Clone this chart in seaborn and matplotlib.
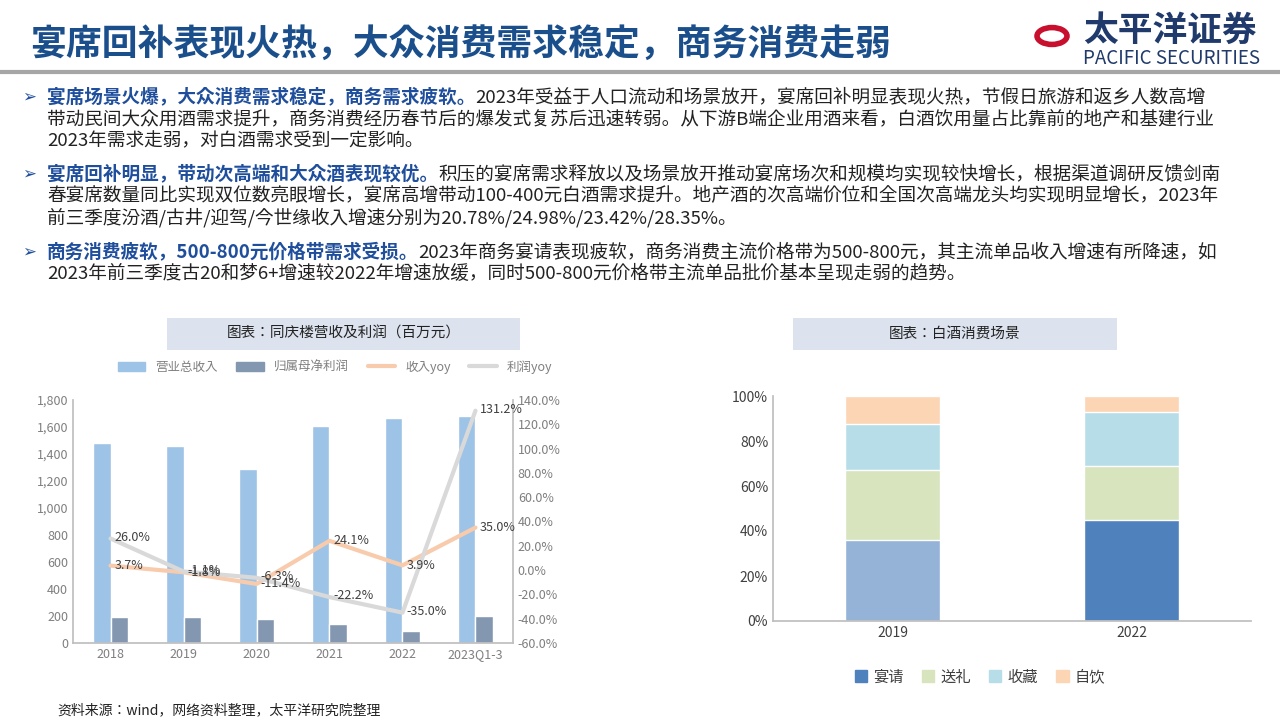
import numpy as np
import pandas as pd
import matplotlib
matplotlib.use("Agg")
import matplotlib.pyplot as plt
import matplotlib.font_manager as fm
from matplotlib.patches import Rectangle, Patch, Circle
from matplotlib.lines import Line2D
import seaborn as sns

# ---- data ----
years = ["2018", "2019", "2020", "2021", "2022", "2023Q1-3"]
revenue = [1485, 1460, 1290, 1605, 1665, 1680]
profit = [195, 192, 178, 140, 90, 200]
rev_yoy = [3.7, -1.8, -11.4, 24.1, 3.9, 35.0]
prof_yoy = [26.0, -1.1, -6.3, -22.2, -35.0, 131.2]

scene_years = ["2019", "2022"]
scene_names = ["宴请", "送礼", "收藏", "自饮"]
banquet = [36.0, 45.0]
gift = [31.0, 24.0]
collect = [20.5, 24.0]
self_drink = [12.5, 7.0]

# find a CJK font on disk and register it
FONT = "Noto Sans CJK SC"
for p in fm.findSystemFonts():
    base = p.split("/")[-1]
    if base.startswith("NotoSansCJK") or base.startswith("NotoSansSC"):
        try:
            fm.fontManager.addfont(p)
        except Exception:
            pass
cjk = [f.name for f in fm.fontManager.ttflist if "CJK" in f.name and "Sans" in f.name]
if FONT not in cjk and cjk:
    FONT = sorted(cjk)[0]
sns.set_theme(style="white", font=FONT, rc={"axes.unicode_minus": False,
                                            "font.sans-serif": [FONT, "DejaVu Sans"]})

W, H = 1280, 720
fig = plt.figure(figsize=(12.8, 7.2), dpi=100)


def px(x, y, w, h):
    return [x / W, 1 - (y + h) / H, w / W, h / H]


def fx(x):
    return x / W


def fy(y):
    return 1 - y / H


# ---- header ----
fig.text(fx(30), fy(44), "宴席回补表现火热，大众消费需求稳定，商务消费走弱",
         fontsize=25.8, fontweight="bold", color="#1B4F8C", va="center")
fig.add_artist(Line2D([0, 1], [fy(72), fy(72)], color="#A6A6A6", lw=3))
fig.add_artist(Circle((fx(1052), fy(36)), 15 / W, transform=fig.transFigure,
                      fill=False, ec="#C8102E", lw=4))
fig.text(fx(1083), fy(30), "太平洋证券", fontsize=25, fontweight="bold",
         color="#1F3A6B", va="center")
fig.text(fx(1083), fy(58), "PACIFIC SECURITIES", fontsize=13.5,
         color="#1F3A6B", va="center")

# ---- bullet text ----
renderer = fig.canvas.get_renderer()
BLUE = "#1F4E9C"
TXT = "#222222"
FS = 13.4


def rich(x, y, parts):
    cur = x
    for s, bold in parts:
        t = fig.text(fx(cur), fy(y), s, fontsize=FS, va="center",
                     fontweight="bold" if bold else "normal",
                     color=BLUE if bold else TXT)
        cur += t.get_window_extent(renderer).width


bullets = [
    (97, [("宴席场景火爆，大众消费需求稳定，商务需求疲软。", True),
          ("2023年受益于人口流动和场景放开，宴席回补明显表现火热，节假日旅游和返乡人数高增", False)]),
    (119, [("带动民间大众用酒需求提升，商务消费经历春节后的爆发式复苏后迅速转弱。从下游B端企业用酒来看，白酒饮用量占比靠前的地产和基建行业", False)]),
    (141, [("2023年需求走弱，对白酒需求受到一定影响。", False)]),
    (174, [("宴席回补明显，带动次高端和大众酒表现较优。", True),
           ("积压的宴席需求释放以及场景放开推动宴席场次和规模均实现较快增长，根据渠道调研反馈剑南", False)]),
    (196, [("春宴席数量同比实现双位数亮眼增长，宴席高增带动100-400元白酒需求提升。地产酒的次高端价位和全国次高端龙头均实现明显增长，2023年", False)]),
    (218, [("前三季度汾酒/古井/迎驾/今世缘收入增速分别为20.78%/24.98%/23.42%/28.35%。", False)]),
    (252, [("商务消费疲软，500-800元价格带需求受损。", True),
           ("2023年商务宴请表现疲软，商务消费主流价格带为500-800元，其主流单品收入增速有所降速，如", False)]),
    (274, [("2023年前三季度古20和梦6+增速较2022年增速放缓，同时500-800元价格带主流单品批价基本呈现走弱的趋势。", False)]),
]
for y, parts in bullets:
    rich(47, y, parts)
for y in (97, 174, 252):
    fig.text(fx(22), fy(y), "➢", fontsize=12, color=BLUE, va="center",
             fontfamily="DejaVu Sans")

# ---- chart title boxes ----
for x0, x1, label in [(167, 520, "图表：同庆楼营收及利润（百万元）"),
                      (793, 1117, "图表：白酒消费场景")]:
    fig.add_artist(Rectangle((fx(x0), fy(350)), (x1 - x0) / W, 32 / H,
                             transform=fig.transFigure, fc="#DCE3EE", ec="none"))
    fig.text(fx((x0 + x1) / 2), fy(334), label, fontsize=10.5, ha="center",
             va="center", color="#222222")

# ---- left chart ----
GRAY = "#7F7F7F"
df = pd.DataFrame({"year": years * 2,
                   "value": revenue + profit,
                   "kind": ["营业总收入"] * 6 + ["归属母净利润"] * 6})
ax = fig.add_axes(px(73, 400, 440, 243))
sns.barplot(data=df, x="year", y="value", hue="kind", ax=ax,
            palette=["#9DC3E6", "#8497B0"], width=0.48, gap=0.0,
            saturation=1, legend=False)
ax.set_ylim(0, 1800)
ax.set_yticks(range(0, 1801, 200))
ax.set_yticklabels([f"{v:,}" for v in range(0, 1801, 200)])
ax.set_xlabel("")
ax.set_ylabel("")
ax.tick_params(colors=GRAY, labelsize=9, length=0)
for s in ("top", "right"):
    ax.spines[s].set_visible(False)
for s in ("left", "bottom"):
    ax.spines[s].set_color("#BFBFBF")

ax2 = ax.twinx()
xs = np.arange(len(years))
sns.lineplot(x=xs, y=rev_yoy, ax=ax2, color="#F8CBAD", lw=3)
sns.lineplot(x=xs, y=prof_yoy, ax=ax2, color="#D9D9D9", lw=3)
ax2.set_ylim(-60, 140)
ax2.set_yticks(range(-60, 141, 20))
ax2.set_yticklabels([f"{v:.1f}%" for v in range(-60, 141, 20)])
ax2.tick_params(colors=GRAY, labelsize=9, length=0)
ax2.spines["top"].set_visible(False)
ax2.spines["left"].set_visible(False)
ax2.spines["bottom"].set_visible(False)
ax2.spines["right"].set_color("#BFBFBF")
for i in range(len(years)):
    ax2.annotate(f"{rev_yoy[i]:.1f}%", (xs[i], rev_yoy[i]), xytext=(3, 0),
                 textcoords="offset points", fontsize=9, color="#404040", va="center")
    ax2.annotate(f"{prof_yoy[i]:.1f}%", (xs[i], prof_yoy[i]), xytext=(3, 1),
                 textcoords="offset points", fontsize=9, color="#404040", va="center")

handles = [Patch(color="#9DC3E6"), Patch(color="#8497B0"),
           Line2D([], [], color="#F8CBAD", lw=3), Line2D([], [], color="#D9D9D9", lw=3)]
fig.legend(handles, ["营业总收入", "归属母净利润", "收入yoy", "利润yoy"],
           loc="center", bbox_to_anchor=(fx(335), fy(367)), ncol=4, frameon=False,
           fontsize=9, labelcolor=GRAY, handlelength=2.2, columnspacing=1.5)

# ---- right chart ----
axr = fig.add_axes(px(773, 396, 478, 225))
layers = [("自饮", self_drink, "#FCD5B5"), ("收藏", collect, "#B7DEE8"),
          ("送礼", gift, "#D7E4BD")]
cum = np.array(banquet) + np.array(gift) + np.array(collect) + np.array(self_drink)
for name, vals, col in layers:
    sns.barplot(x=scene_years, y=cum, ax=axr, color=col, width=0.4, saturation=1)
    cum = cum - np.array(vals)
sns.barplot(x=scene_years, y=banquet, hue=scene_years, ax=axr,
            palette=["#95B3D7", "#4F81BD"], width=0.4, saturation=1, legend=False)
axr.set_xlim(-0.5, 1.5)
axr.set_ylim(0, 100)
axr.set_yticks(range(0, 101, 20))
axr.set_yticklabels([f"{v}%" for v in range(0, 101, 20)])
axr.tick_params(colors="#404040", labelsize=10, length=0)
axr.set_xlabel("")
axr.set_ylabel("")
for s in ("top", "right"):
    axr.spines[s].set_visible(False)
for s in ("left", "bottom"):
    axr.spines[s].set_color("#BFBFBF")
hs = [Patch(color=c) for c in ["#4F81BD", "#D7E4BD", "#B7DEE8", "#FCD5B5"]]
fig.legend(hs, scene_names, loc="center", bbox_to_anchor=(fx(980), fy(677)),
           ncol=4, frameon=False, fontsize=11, labelcolor="#404040",
           handlelength=0.8, handleheight=0.8, columnspacing=1.2, handletextpad=0.4)

# ---- source ----
fig.text(fx(57), fy(710), "资料来源：wind，网络资料整理，太平洋研究院整理",
         fontsize=10, style="italic", color="#222222", va="center")

fig.savefig("out.png", dpi=100)
